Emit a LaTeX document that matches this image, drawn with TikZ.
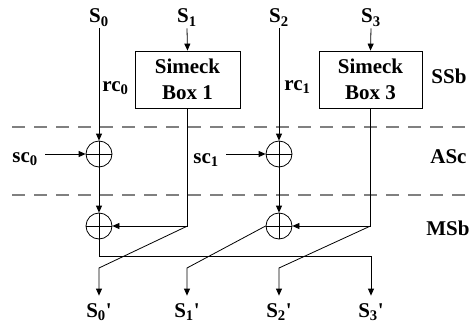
\documentclass[tikz,border=0pt]{standalone}
\usepackage{fontspec}
\setmainfont{Liberation Serif}
\usetikzlibrary{arrows.meta}
\begin{document}
\begin{tikzpicture}[x=1pt,y=-1pt,
  font=\fontsize{21}{26}\selectfont\bfseries,
  line width=0.8pt,
  arr/.style={-{Triangle[length=7pt,width=6pt]}},
  xorc/.style={circle,draw,minimum size=26pt,inner sep=0pt,
    path picture={\draw (path picture bounding box.north) -- (path picture bounding box.south)
      (path picture bounding box.west) -- (path picture bounding box.east);}},
  sbox/.style={draw,align=center,minimum height=57pt,inner sep=0pt},
  inlab/.style={text height=14pt,text depth=0pt,inner xsep=0pt,inner ysep=5pt,anchor=base},
  outlab/.style={text height=14pt,text depth=0pt,inner xsep=0pt,inner ysep=7pt,anchor=base},
  sidelab/.style={inner sep=0pt,anchor=base west},
  sep/.style={gray,line width=1.3pt,dash pattern=on 13pt off 9pt}]
\useasboundingbox (0,0) rectangle (472,324);
% separators
\draw[sep] (12,127) -- (468,127);
\draw[sep] (12,195) -- (468,195);
% layer labels
\node[sidelab] (ssb) at (431,83) {SSb};
\node[sidelab] (asc) at (430,163) {ASc};
\node[sidelab] (msb) at (426,235) {MSb};
% inputs
\node[inlab] (s0) at (99,23) {S\textsubscript{0}};
\node[inlab] (s1) at (187,23) {S\textsubscript{1}};
\node[inlab] (s2) at (279,23) {S\textsubscript{2}};
\node[inlab] (s3) at (371,23) {S\textsubscript{3}};
% boxes
\node[sbox,minimum width=105pt] (box1) at (187.5,79.5) {Simeck\\Box 1};
\node[sbox,minimum width=103pt] (box3) at (370.5,79.5) {Simeck\\Box 3};
% xors
\node[xorc] (x0) at (99,154) {};
\node[xorc] (x1) at (279,154) {};
\node[xorc] (x2) at (99,226) {};
\node[xorc] (x3) at (279,226) {};
% constants
\node[sidelab] (rc0) at (102,91) {rc\textsubscript{0}};
\node[sidelab] (rc1) at (284,90) {rc\textsubscript{1}};
\node[sidelab] (sc0) at (12,162) {sc\textsubscript{0}};
\node[sidelab] (sc1) at (193,163) {sc\textsubscript{1}};
% outputs
\node[outlab] (o0) at (99,317) {S\textsubscript{0}\textquotesingle};
\node[outlab] (o1) at (187,317) {S\textsubscript{1}\textquotesingle};
\node[outlab] (o2) at (279,317) {S\textsubscript{2}\textquotesingle};
\node[outlab] (o3) at (371,317) {S\textsubscript{3}\textquotesingle};
% top connections
\draw[arr] (s0.south) -- (x0.north);
\draw[arr] (s1.south) -- (box1.north);
\draw[arr] (s2.south) -- (x1.north);
\draw[arr] (s3.south) -- (box3.north);
\coordinate (sc0e) at ([xshift=7pt]sc0.east);
\coordinate (sc1e) at ([xshift=7pt]sc1.east);
\draw[arr] (sc0e |- x0.west) -- (x0.west);
\draw[arr] (sc1e |- x1.west) -- (x1.west);
\draw[arr] (x0.south) -- (x2.north);
\draw[arr] (x1.south) -- (x3.north);
\draw[arr] (box1.south) |- (x2.east);
\draw[arr] (box3.south) |- (x3.east);
% permutation
\coordinate (b1c) at (box1.south |- x2.center);
\coordinate (b3c) at (box3.south |- x3.center);
\draw[arr] (x2.south) -- (99,256) -- (371,256) -- (o3.north);
\draw[arr] (b1c) -- (99,268) -- (o0.north);
\draw[arr] (x3.west) -- (187,268) -- (o1.north);
\draw[arr] (b3c) -- (279,268) -- (o2.north);
\end{tikzpicture}
\end{document}
